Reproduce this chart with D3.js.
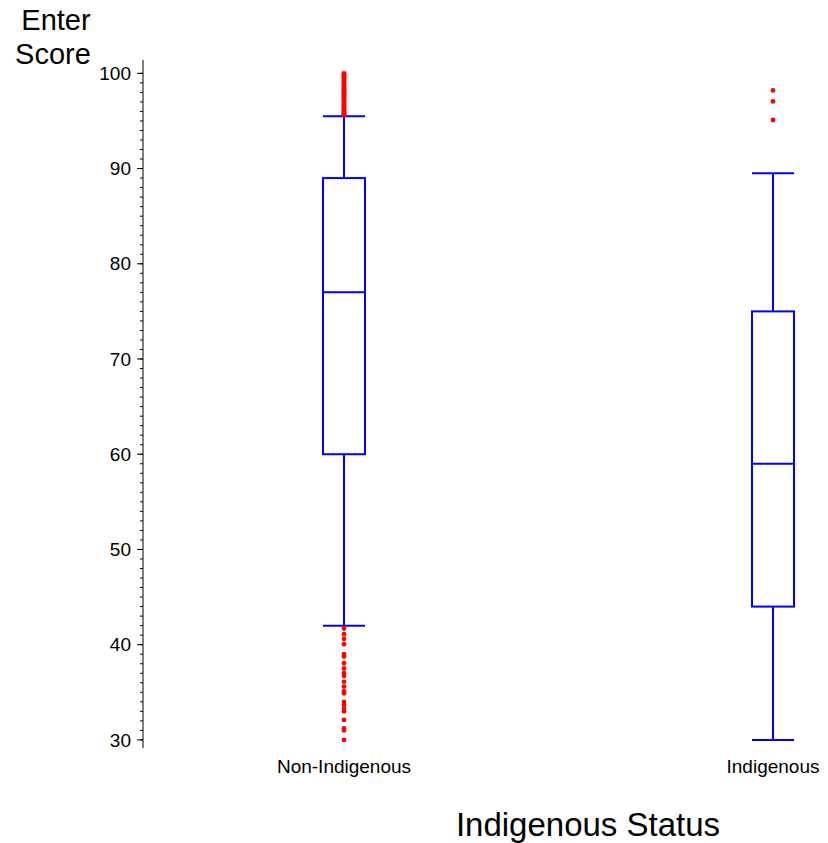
<!DOCTYPE html>
<html>
<head>
<meta charset="utf-8">
<script src="https://cdn.jsdelivr.net/npm/d3@7"></script>
<style>
  body { margin: 0; background: #fff; }
  svg { display: block; font-family: "Liberation Sans", Arial, sans-serif; }
</style>
</head>
<body>
<div id="box"></div>
<script>
// box plot data
var categories = ["Non-Indigenous", "Indigenous"];
var whiskerLow = [42, 30];
var q1 = [60, 44];
var median = [77, 59];
var q3 = [89, 75];
var whiskerHigh = [95.5, 89.5];

// outliers
var outliersNonIndigenous = [
    95.6, 95.7, 95.8, 95.9, 96.0, 96.1, 96.2, 96.3, 96.4, 96.5, 96.6, 96.7,
    96.8, 96.9, 97.0, 97.1, 97.2, 97.3, 97.4, 97.5, 97.6, 97.7, 97.8, 97.9,
    98.0, 98.1, 98.2, 98.3, 98.4, 98.5, 98.6, 98.7, 98.8, 98.9, 99.0, 99.1,
    99.2, 99.3, 99.4, 99.5, 99.6, 99.7, 99.8, 99.9, 100,
    41.7, 41.1, 40.6, 40.05, 39.0, 38.75, 38.05, 37.5, 37.0, 36.7, 36.1, 35.6,
    35.1, 34.9, 34.0, 33.7, 33.3, 33.0, 32.1, 31.2, 31.0, 30.0
];
var outliersIndigenous = [98.2, 97.05, 95.1];

var yTicks = [30, 40, 50, 60, 70, 80, 90, 100];

var width = 828, height = 843;

var svg = d3.select("#box")
    .append("svg")
    .attr("width", width)
    .attr("height", height);

var y = d3.scaleLinear().domain([29.15, 101.4]).range([748, 60]);
var x = d3.scalePoint().domain(categories).range([344, 773]);
var boxW = 42;
var axisX = 143;

// y axis
var minor = d3.range(30, 101, 1);
var yAxis = svg.append("g").attr("transform", "translate(" + axisX + ",0)");
yAxis.append("line")
    .attr("x1", 0).attr("x2", 0)
    .attr("y1", y(101.4)).attr("y2", y(29.15))
    .attr("stroke", "#000").attr("stroke-width", 1);
yAxis.selectAll(".minor")
    .data(minor)
    .enter()
    .append("line")
    .attr("x1", -3).attr("x2", 0)
    .attr("y1", function(d) { return y(d); })
    .attr("y2", function(d) { return y(d); })
    .attr("stroke", "#000");
yAxis.selectAll(".major")
    .data(yTicks)
    .enter()
    .append("line")
    .attr("x1", -6).attr("x2", 0)
    .attr("y1", function(d) { return y(d); })
    .attr("y2", function(d) { return y(d); })
    .attr("stroke", "#000");
yAxis.selectAll(".lab")
    .data(yTicks)
    .enter()
    .append("text")
    .attr("x", -12)
    .attr("y", function(d) { return y(d); })
    .attr("dy", "0.35em")
    .attr("text-anchor", "end")
    .attr("font-size", 19)
    .text(function(d) { return d; });

// y title, two lines
svg.append("text")
    .attr("x", 56).attr("y", 30)
    .attr("text-anchor", "middle")
    .attr("font-size", 29)
    .text("Enter");
svg.append("text")
    .attr("x", 53).attr("y", 64)
    .attr("text-anchor", "middle")
    .attr("font-size", 29)
    .text("Score");

// category labels
svg.selectAll(".cat")
    .data(categories)
    .enter()
    .append("text")
    .attr("x", function(d) { return x(d); })
    .attr("y", 773)
    .attr("text-anchor", "middle")
    .attr("font-size", 19)
    .text(function(d) { return d; });

svg.append("text")
    .attr("x", 588).attr("y", 836)
    .attr("text-anchor", "middle")
    .attr("font-size", 33)
    .text("Indigenous Status");

// boxes
var boxes = categories.map(function(c, i) {
    return { cat: c, lo: whiskerLow[i], q1: q1[i], med: median[i], q3: q3[i], hi: whiskerHigh[i] };
});

var g = svg.selectAll(".boxg")
    .data(boxes)
    .enter()
    .append("g")
    .attr("stroke", "#0000ff")
    .attr("stroke-width", 2)
    .attr("fill", "none");

g.append("line")
    .attr("x1", function(d) { return x(d.cat); })
    .attr("x2", function(d) { return x(d.cat); })
    .attr("y1", function(d) { return y(d.hi); })
    .attr("y2", function(d) { return y(d.q3); });
g.append("line")
    .attr("x1", function(d) { return x(d.cat); })
    .attr("x2", function(d) { return x(d.cat); })
    .attr("y1", function(d) { return y(d.q1); })
    .attr("y2", function(d) { return y(d.lo); });
g.append("rect")
    .attr("x", function(d) { return x(d.cat) - boxW / 2; })
    .attr("width", boxW)
    .attr("y", function(d) { return y(d.q3); })
    .attr("height", function(d) { return y(d.q1) - y(d.q3); });
["med", "hi", "lo"].forEach(function(k) {
    g.append("line")
        .attr("x1", function(d) { return x(d.cat) - boxW / 2; })
        .attr("x2", function(d) { return x(d.cat) + boxW / 2; })
        .attr("y1", function(d) { return y(d[k]); })
        .attr("y2", function(d) { return y(d[k]); });
});

// outlier points
var pts = outliersNonIndigenous.map(function(v) { return { cat: categories[0], v: v }; })
    .concat(outliersIndigenous.map(function(v) { return { cat: categories[1], v: v }; }));

svg.selectAll(".pt")
    .data(pts)
    .enter()
    .append("circle")
    .attr("cx", function(d) { return x(d.cat); })
    .attr("cy", function(d) { return y(d.v); })
    .attr("r", 2.4)
    .attr("fill", "#ff0000");
</script>
</body>
</html>
